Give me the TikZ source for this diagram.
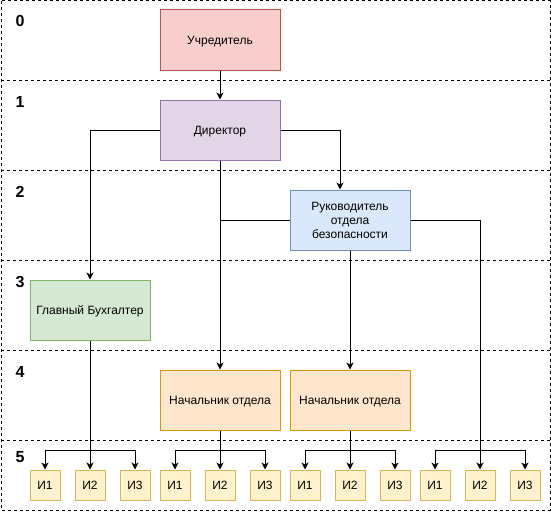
\documentclass[tikz,border=0pt]{standalone}
\usepackage{fontspec}
\setmainfont{Liberation Sans}
\usepackage{xcolor}
\usepackage{tikz}
\usetikzlibrary{arrows.meta}
\definecolor{uchfill}{HTML}{F8CECC}
\definecolor{uchline}{HTML}{B85450}
\definecolor{dirfill}{HTML}{E1D5E7}
\definecolor{dirline}{HTML}{9673A6}
\definecolor{rukfill}{HTML}{DAE8FC}
\definecolor{rukline}{HTML}{6C8EBF}
\definecolor{buhfill}{HTML}{D5E8D4}
\definecolor{buhline}{HTML}{82B366}
\definecolor{nachfill}{HTML}{FFE6CC}
\definecolor{nachline}{HTML}{D79B00}
\definecolor{ifill}{HTML}{FFF2CC}
\definecolor{iline}{HTML}{D6B656}
\tikzset{
  box/.style={draw,line width=1pt,minimum width=120pt,minimum height=60pt,
    inner sep=0pt,align=center,text height=8.6pt,text depth=0pt,
    font=\fontsize{12}{14}\selectfont},
  ibox/.style={box,minimum width=30pt,minimum height=30pt,draw=iline,fill=ifill},
  lvl/.style={font=\fontsize{16}{18}\selectfont\bfseries},
  sep/.style={line width=1pt,dash pattern=on 3pt off 3pt},
  link/.style={line width=1pt,-{Stealth[length=7pt,width=7pt,inset=2pt]}},
}
\begin{document}
\begin{tikzpicture}[x=1pt,y=-1pt]
\useasboundingbox (0,0) rectangle (551,511);
%% levels
\draw[sep] (1,1) rectangle (550,510);
\draw[sep] (1,80) -- (550,80);
\draw[sep] (1,170) -- (550,170);
\draw[sep] (1,260) -- (550,260);
\draw[sep] (1,350) -- (550,350);
\draw[sep] (1,440) -- (550,440);
\node[lvl] (l0) at (20,21) {0};
\node[lvl] (l1) at (20,102) {1};
\node[lvl] (l2) at (20,192) {2};
\node[lvl] (l3) at (20,282) {3};
\node[lvl] (l4) at (20,372) {4};
\node[lvl] (l5) at (20,457) {5};
%% heads
\node[box,draw=uchline,fill=uchfill] (uch) at (220,40) {Учредитель};
\node[box,draw=dirline,fill=dirfill] (dir) at (220,130) {Директор};
\node[box,draw=rukline,fill=rukfill,text height=,text depth=] (ruk) at (350,220) {Руководитель\\отдела\\безопасности};
\node[box,draw=buhline,fill=buhfill] (buh) at (90,310) {Главный Бухгалтер};
\node[box,draw=nachline,fill=nachfill] (nach1) at (220,400) {Начальник отдела};
\node[box,draw=nachline,fill=nachfill] (nach2) at (350,400) {Начальник отдела};
%% workers
\node[ibox] (g1a) at (45,485) {И1};
\node[ibox] (g1b) at (90,485) {И2};
\node[ibox] (g1c) at (135,485) {И3};
\node[ibox] (g2a) at (175,485) {И1};
\node[ibox] (g2b) at (220,485) {И2};
\node[ibox] (g2c) at (265,485) {И3};
\node[ibox] (g3a) at (305,485) {И1};
\node[ibox] (g3b) at (350,485) {И2};
\node[ibox] (g3c) at (395,485) {И3};
\node[ibox] (g4a) at (435,485) {И1};
\node[ibox] (g4b) at (480,485) {И2};
\node[ibox] (g4c) at (525,485) {И3};
%% links
\draw[link] (uch) -- (dir);
\draw[link] (dir.west) -| (buh.north);
\draw[link] (dir.east) -| ([xshift=-10pt]ruk.north);
\draw[link] (dir) -- (nach1);
\draw[line width=1pt] (ruk.west) -- (ruk.west -| dir.south);
\draw[link] (ruk) -- (nach2);
\draw[link] (ruk.east) -| (g4b.north);
%%
\coordinate (j1) at (90,450);
\coordinate (j2) at (220,450);
\coordinate (j3) at (350,450);
\coordinate (j4) at (480,450);
\draw[link] (buh) -- (g1b);
\draw[link] (j1) -| (g1a.north);
\draw[link] (j1) -| (g1c.north);
\draw[link] (nach1) -- (g2b);
\draw[link] (j2) -| (g2a.north);
\draw[link] (j2) -| (g2c.north);
\draw[link] (nach2) -- (g3b);
\draw[link] (j3) -| (g3a.north);
\draw[link] (j3) -| (g3c.north);
\draw[link] (j4) -| (g4a.north);
\draw[link] (j4) -| (g4c.north);
\end{tikzpicture}
\end{document}
